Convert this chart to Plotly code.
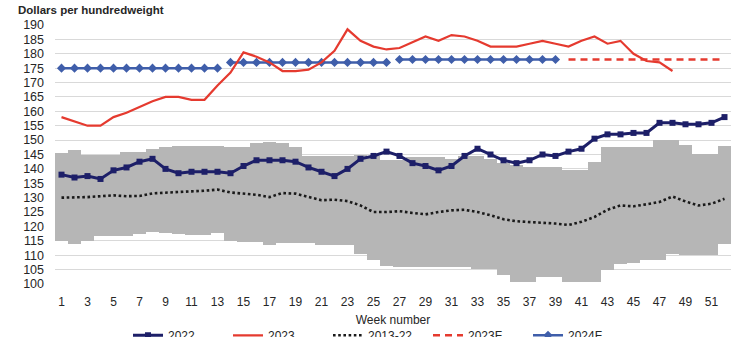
import plotly.graph_objects as go

# Week numbers
weeks = list(range(1, 53))

# Weekly price, 2022 (dollars per hundredweight)
price_2022 = [138, 137, 137.5, 136.5, 139.5, 140.5, 142.5, 143.5, 140, 138.5,
              139, 139, 139, 138.5, 141, 143, 143, 143, 142.5, 140.5,
              139, 137.5, 140, 143.5, 144.5, 146, 144.5, 142, 141, 139.5,
              141, 144.5, 147, 145, 143, 142, 143, 145, 144.5, 146,
              147, 150.5, 152, 152, 152.5, 152.5, 156, 156, 155.5, 155.5,
              156, 158]

# Weekly price, 2023 (weeks 1-48 reported)
price_2023 = [158, 156.5, 155, 155, 158, 159.5, 161.5, 163.5, 165, 165,
              164, 164, 169, 173.5, 180.5, 179, 177, 174, 174, 174.5,
              177, 181, 188.5, 184.5, 182.5, 181.5, 182, 184, 186, 184.5,
              186.5, 186, 184.5, 182.5, 182.5, 182.5, 183.5, 184.5, 183.5, 182.5,
              184.5, 186, 183.5, 184.5, 180, 177.5, 177, 174]

# 2013-22 weekly average
avg_2013_22 = [130, 130, 130.2, 130.5, 130.8, 130.5, 130.6, 131.5, 131.8, 132,
               132.2, 132.4, 132.8, 131.8, 131.4, 131, 130.2, 131.6, 131.4, 130.2,
               129.1, 129.3, 128.8, 127.3, 125, 125, 125.3, 124.7, 124.2, 125,
               125.6, 125.8, 125, 123.9, 122.5, 121.8, 121.6, 121.2, 121, 120.5,
               121.6, 123.3, 125.8, 127.3, 127, 127.7, 128.5, 130.4, 128.7, 127.3,
               127.9, 129.6]

# 2013-22 weekly range (high / low)
range_high = [145.5, 146.5, 145, 145, 145, 145.8, 145.8, 147, 147.5, 148,
              148, 148, 148, 147.5, 147.5, 149, 149.5, 149, 147.5, 144.5,
              144.5, 144.5, 144.5, 145, 144.5, 143, 143, 144, 144, 144,
              143.5, 144.5, 144.5, 143.5, 142, 141.5, 140.5, 140.5, 140.5, 139.5,
              139.5, 142.3, 147.5, 147.5, 147.5, 147.5, 150, 150, 148.3, 145.2,
              145.2, 148]
range_low = [114.8, 113.8, 115, 116.6, 116.6, 116.6, 117.3, 118, 117.8, 117.3,
             117, 117, 117.8, 115, 114.6, 114.6, 113.4, 114.2, 114.1, 114.1,
             113.5, 113.5, 113.5, 110.4, 108.5, 106.3, 106, 106, 106, 106,
             106, 106, 105.1, 105.1, 103.3, 100.8, 100.8, 102.4, 102.4, 100.8,
             100.8, 100.8, 104.8, 107, 107.2, 108.3, 108.3, 110.6, 110, 110,
             110, 114]

# 2023 forecast (Q4) and 2024 quarterly forecasts, by week span
forecast_2023_weeks = (40, 52)
forecast_2023_value = 178
forecast_2024_weeks = [(1, 13), (14, 26), (27, 39)]
forecast_2024_values = [175, 177, 178]

NAVY = "#1d1f68"
RED = "#e53a2f"
BLUE = "#3f5eaa"
GREY_BAND = "#b6b6b6"
TEXT = "#262626"
FONT = "Liberation Sans, Arial, sans-serif"

fig = go.Figure()

# Range band: low value as base, high-low as height
fig.add_trace(go.Bar(
    x=weeks,
    y=[h - l for h, l in zip(range_high, range_low)],
    base=range_low,
    width=1,
    marker=dict(color=GREY_BAND, line=dict(width=0)),
    showlegend=False,
    hoverinfo="skip",
))

fig.add_trace(go.Scatter(
    x=weeks, y=avg_2013_22, name="2013-22", mode="lines",
    line=dict(color="#1a1a1a", width=2.6, dash="2.6px,2.6px"),
    legendrank=3,
))

# 2024F drawn as separate quarterly segments
f24_x, f24_y = [], []
for (w0, w1), v in zip(forecast_2024_weeks, forecast_2024_values):
    f24_x += list(range(w0, w1 + 1)) + [None]
    f24_y += [v] * (w1 - w0 + 1) + [None]
fig.add_trace(go.Scatter(
    x=f24_x, y=f24_y, name="2024F", mode="lines+markers",
    line=dict(color=BLUE, width=2.5),
    marker=dict(symbol="diamond", size=7, color=BLUE),
    connectgaps=False,
    legendrank=5,
))

fig.add_trace(go.Scatter(
    x=weeks, y=price_2022, name="2022", mode="lines+markers",
    line=dict(color=NAVY, width=3),
    marker=dict(symbol="square", size=6, color=NAVY),
    legendrank=1,
))

f23_x = list(range(forecast_2023_weeks[0], forecast_2023_weeks[1] + 1))
fig.add_trace(go.Scatter(
    x=f23_x, y=[forecast_2023_value] * len(f23_x), name="2023F", mode="lines",
    line=dict(color=RED, width=2.5, dash="7px,5px"),
    legendrank=4,
))

fig.add_trace(go.Scatter(
    x=weeks[:len(price_2023)], y=price_2023, name="2023", mode="lines",
    line=dict(color=RED, width=2.2),
    legendrank=2,
))

fig.add_annotation(
    text="<b>Dollars per hundredweight</b>",
    xref="paper", yref="paper", x=-0.058, y=1.058,
    xanchor="left", yanchor="middle", showarrow=False,
    font=dict(family=FONT, size=11.5, color=TEXT),
)

fig.update_layout(
    width=738, height=337,
    margin=dict(l=55, r=7, t=25, b=53, autoexpand=False),
    paper_bgcolor="white", plot_bgcolor="white",
    font=dict(family=FONT, size=12, color=TEXT),
    bargap=0,
    showlegend=True,
    legend=dict(
        orientation="h", x=0.108, xanchor="left", y=-0.142, yanchor="top",
        font=dict(family=FONT, size=12, color=TEXT),
        entrywidth=55, entrywidthmode="pixels",
        traceorder="normal", bgcolor="rgba(0,0,0,0)",
    ),
    xaxis=dict(
        range=[0.5, 52.5], tickmode="array",
        tickvals=list(range(1, 53, 2)), ticktext=[str(w) for w in range(1, 53, 2)],
        showgrid=False, zeroline=False, showline=False, ticks="",
        ticklabelstandoff=9,
        tickfont=dict(family=FONT, size=12, color=TEXT),
        title=dict(text="Week number", standoff=7,
                   font=dict(family=FONT, size=12, color=TEXT)),
    ),
    yaxis=dict(
        range=[100, 190], dtick=5, tick0=100,
        showgrid=True, gridcolor="#d9d9d9", gridwidth=1,
        zeroline=False, showline=False, ticks="",
        ticklabelstandoff=10,
        tickfont=dict(family=FONT, size=12.5, color=TEXT),
    ),
)

fig.write_html("out.html")
